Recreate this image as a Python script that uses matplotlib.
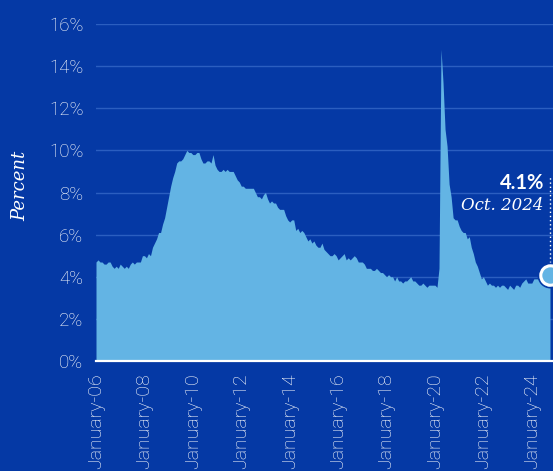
import matplotlib
matplotlib.use("Agg")
import matplotlib.pyplot as plt
import numpy as np

# Monthly US unemployment rate, Jan 2006 - Oct 2024 (percent)
rates = [
    4.7, 4.8, 4.7, 4.7, 4.6, 4.6, 4.7, 4.7, 4.5, 4.4, 4.5, 4.4,  # 2006
    4.6, 4.5, 4.4, 4.5, 4.4, 4.6, 4.7, 4.6, 4.7, 4.7, 4.7, 5.0,  # 2007
    5.0, 4.9, 5.1, 5.0, 5.4, 5.6, 5.8, 6.1, 6.1, 6.5, 6.8, 7.3,  # 2008
    7.8, 8.3, 8.7, 9.0, 9.4, 9.5, 9.5, 9.6, 9.8, 10.0, 9.9, 9.9,  # 2009
    9.8, 9.8, 9.9, 9.9, 9.6, 9.4, 9.4, 9.5, 9.5, 9.4, 9.8, 9.3,  # 2010
    9.1, 9.0, 9.0, 9.1, 9.0, 9.1, 9.0, 9.0, 9.0, 8.8, 8.6, 8.5,  # 2011
    8.3, 8.3, 8.2, 8.2, 8.2, 8.2, 8.2, 8.0, 7.8, 7.8, 7.7, 7.9,  # 2012
    8.0, 7.7, 7.5, 7.6, 7.5, 7.5, 7.3, 7.2, 7.2, 7.2, 6.9, 6.7,  # 2013
    6.6, 6.7, 6.7, 6.2, 6.3, 6.1, 6.2, 6.1, 5.9, 5.7, 5.8, 5.6,  # 2014
    5.7, 5.5, 5.4, 5.4, 5.6, 5.3, 5.2, 5.1, 5.0, 5.0, 5.1, 5.0,  # 2015
    4.8, 4.9, 5.0, 5.1, 4.8, 4.9, 4.8, 4.9, 5.0, 4.9, 4.7, 4.7,  # 2016
    4.7, 4.6, 4.4, 4.4, 4.4, 4.3, 4.3, 4.4, 4.3, 4.2, 4.2, 4.1,  # 2017
    4.0, 4.1, 4.0, 4.0, 3.8, 4.0, 3.8, 3.8, 3.7, 3.8, 3.8, 3.9,  # 2018
    4.0, 3.8, 3.8, 3.7, 3.6, 3.6, 3.7, 3.6, 3.5, 3.6, 3.6, 3.6,  # 2019
    3.6, 3.5, 4.4, 14.8, 13.2, 11.0, 10.2, 8.4, 7.8, 6.8, 6.7, 6.7,  # 2020
    6.4, 6.2, 6.1, 6.1, 5.8, 5.9, 5.4, 5.1, 4.7, 4.5, 4.2, 3.9,  # 2021
    4.0, 3.8, 3.6, 3.7, 3.6, 3.6, 3.5, 3.6, 3.5, 3.6, 3.6, 3.5,  # 2022
    3.4, 3.6, 3.5, 3.4, 3.6, 3.6, 3.5, 3.7, 3.8, 3.9, 3.7, 3.7,  # 2023
    3.7, 3.9, 3.9, 3.9, 4.0, 4.1, 4.3, 4.2, 4.1, 4.1,  # 2024 (Jan-Oct)
]
yticks = [0, 2, 4, 6, 8, 10, 12, 14, 16]
tick_years = list(range(2006, 2025, 2))
tick_labels = ["January-%02d" % (y % 100) for y in tick_years]
last_label = "4.1%"
last_date = "Oct. 2024"

BG = "#0539a5"
FILL = "#63b4e4"
GRID = "#2b5ec0"
TXT = "#ffffff"

x = np.arange(len(rates))

fig = plt.figure(figsize=(5.53, 4.71), dpi=100, facecolor=BG)
ax = fig.add_axes([96 / 553, 110 / 471, 457 / 553, 337 / 471])
ax.set_facecolor(BG)
for s in ax.spines.values():
    s.set_visible(False)

ax.fill_between(x, 0, rates, color=FILL, lw=0, zorder=2)
ax.set_xlim(0, 226.5)
ax.set_ylim(0, 16)
ax.set_yticks(yticks)
ax.set_yticklabels(["%d%%" % v for v in yticks])
for v in yticks[1:]:
    ax.axhline(v, color=GRID, lw=1.0, zorder=1)
ax.axhline(0, color="white", lw=1.6, zorder=3, clip_on=False)

ax.set_xticks([(y - 2006) * 12 for y in tick_years])
ax.set_xticklabels(tick_labels, rotation=90, va="top", ha="center")
ax.tick_params(axis="both", length=0, colors=TXT)
ax.tick_params(axis="x", pad=9)
ax.tick_params(axis="y", pad=9)
for lab in ax.get_yticklabels():
    lab.set_family("Roboto")
    lab.set_weight("light")
    lab.set_fontsize(13.5)
    lab.set_color(TXT)
for lab in ax.get_xticklabels():
    lab.set_family("Roboto")
    lab.set_weight("light")
    lab.set_fontsize(14)
    lab.set_color(TXT)

ax.set_ylabel("Percent", family="DejaVu Serif", style="italic", color="white",
              fontsize=13)
ax.yaxis.set_label_coords(-67 / 457, 0.52)

# final point annotation
xi = x[-1]
yi = rates[-1]
ax.plot([xi, xi], [yi, 8.8], color="white", lw=1.0, ls=(0, (1, 2)), zorder=4, clip_on=False)
ax.plot([xi], [yi], marker="o", ms=14, mfc=FILL, mec="white", mew=2.2, zorder=6, clip_on=False)
ax.plot([xi], [yi], marker="o", ms=17.5, mfc="none", mec=BG, mew=1.2, zorder=5, clip_on=False)
ax.text(xi - 3, 8.45, last_label, color="white", fontsize=14.5, fontweight="bold",
        family="Lato", ha="right", va="center", zorder=7)
ax.text(xi - 3, 7.4, last_date, color="white", fontsize=12, style="italic",
        family="DejaVu Serif", ha="right", va="center", zorder=7)

fig.savefig("out.png", dpi=100, facecolor=BG)
